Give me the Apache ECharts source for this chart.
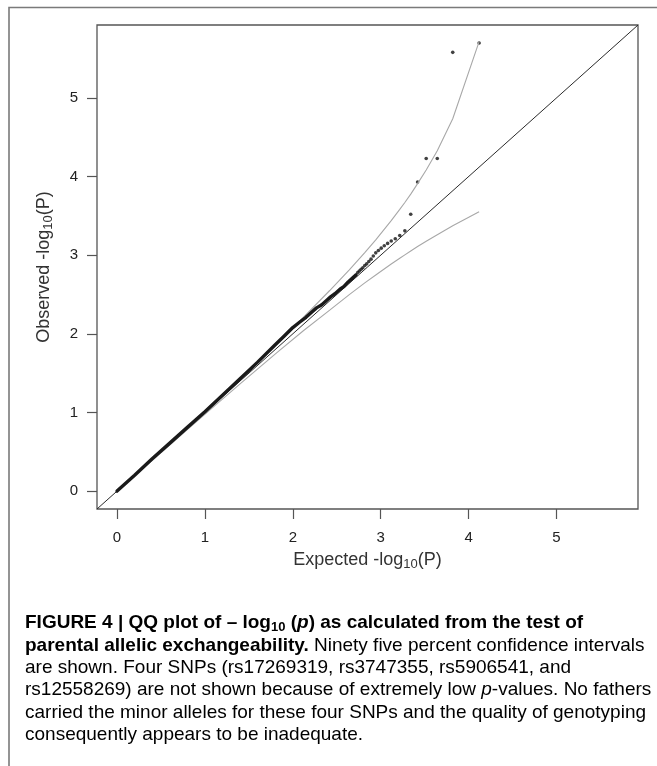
<!DOCTYPE html>
<html><head><meta charset="utf-8">
<script src="https://cdn.jsdelivr.net/npm/echarts@6/dist/echarts.min.js"></script>
<style>html,body{margin:0;padding:0;background:#fff}#c{width:657px;height:766px}</style>
</head><body><div id="c"></div>
<script>
// ---- data ----
const tickValues = [0, 1, 2, 3, 4, 5];
const axisMin = -0.228, axisMax = 5.928;
// dense part of the QQ points (many overlapping dots)
const denseExpected = [0.00, 0.20, 0.40, 0.60, 0.80, 1.00, 1.20, 1.40, 1.60, 1.80, 1.90, 2.00, 2.08, 2.15, 2.22, 2.27, 2.33, 2.39, 2.43, 2.48, 2.54, 2.58, 2.63, 2.67, 2.72];
const denseObserved = [0.00, 0.20, 0.41, 0.61, 0.81, 1.01, 1.22, 1.43, 1.64, 1.86, 1.97, 2.08, 2.15, 2.21, 2.28, 2.33, 2.37, 2.43, 2.47, 2.51, 2.57, 2.60, 2.66, 2.70, 2.75];
// upper tail, individual dots
const tailExpected = [4.12, 3.82, 3.644, 3.518, 3.42, 3.342, 3.275, 3.217, 3.166, 3.12, 3.079, 3.041, 3.006, 2.974, 2.944, 2.916, 2.89, 2.865, 2.841, 2.819, 2.797, 2.777, 2.757, 2.739];
const tailObserved = [5.70, 5.58, 4.23, 4.23, 3.93, 3.52, 3.31, 3.25, 3.21, 3.18, 3.15, 3.12, 3.09, 3.06, 3.03, 2.99, 2.95, 2.92, 2.89, 2.87, 2.84, 2.82, 2.80, 2.78];
// 95% confidence band
const ciExpected = [4.12, 3.82, 3.644, 3.518, 3.42, 3.342, 3.275, 3.217, 3.12, 2.944, 2.819, 2.643, 2.42, 2.12, 1.819, 1.42, 1.12, 0.819, 0.421, 0];
const ciUpper    = [5.717, 4.736, 4.328, 4.083, 3.91, 3.777, 3.671, 3.582, 3.439, 3.196, 3.033, 2.814, 2.551, 2.21, 1.881, 1.46, 1.148, 0.839, 0.433, 0];
const ciLower    = [3.553, 3.374, 3.261, 3.177, 3.11, 3.053, 3.004, 2.961, 2.888, 2.749, 2.648, 2.499, 2.301, 2.039, 1.761, 1.383, 1.094, 0.800, 0.409, 0];
// caption
const captionLines = [
  [['b','FIGURE 4 | QQ plot of – log'],['bs','10'],['b',' ('],['bi','p'],['b',') as calculated from the test of']],
  [['b','parental allelic exchangeability.'],['r',' Ninety five percent confidence intervals']],
  [['r','are shown. Four SNPs (rs17269319, rs3747355, rs5906541, and']],
  [['r','rs12558269) are not shown because of extremely low '],['ri','p'],['r','-values. No fathers']],
  [['r','carried the minor alleles for these four SNPs and the quality of genotyping']],
  [['r','consequently appears to be inadequate.']]
];

const pair = (xs, ys) => xs.map((x, i) => [x, ys[i]]);
const FONT = 'Liberation Sans, Arial, sans-serif';
const capFont = 19;
const capColor = '#231f20';
const capStyles = {
  b:  {fontFamily: FONT, fontSize: capFont, fontWeight: 'bold', color: capColor, lineHeight: 22},
  bs: {fontFamily: FONT, fontSize: 13, fontWeight: 'bold', color: capColor, verticalAlign: 'bottom', lineHeight: 14, padding: [10,0,0,0]},
  bi: {fontFamily: FONT, fontSize: capFont, fontWeight: 'bold', fontStyle: 'italic', color: capColor, lineHeight: 22},
  r:  {fontFamily: FONT, fontSize: capFont, color: capColor, lineHeight: 22},
  ri: {fontFamily: FONT, fontSize: capFont, fontStyle: 'italic', color: capColor, lineHeight: 22}
};
const capFirst = 623, capStep = 22.4;
const captionGraphics = captionLines.map((line, i) => ({
  type: 'text', x: 25, y: capFirst + i * capStep,
  style: {
    text: line.map(([k, t]) => '{' + k + '|' + t + '}').join(''),
    rich: capStyles, verticalAlign: 'middle', align: 'left'
  }
}));

const nameRich = {
  a: {fontFamily: FONT, fontSize: 18, color: '#333'},
  s: {fontFamily: FONT, fontSize: 13, color: '#333', verticalAlign: 'bottom', padding: [9,0,0,0]}
};

const chart = echarts.init(document.getElementById('c'), null, {renderer: 'canvas'});
chart.setOption({
  animation: false,
  backgroundColor: '#fff',
  grid: {left: 97, top: 25, width: 541, height: 484, show: true, borderColor: '#555', borderWidth: 1.3, backgroundColor: 'transparent'},
  xAxis: {
    type: 'value', min: axisMin, max: axisMax,
    axisLine: {show: false, onZero: false}, splitLine: {show: false},
    axisTick: {show: true, inside: false, customValues: tickValues, length: 10, lineStyle: {color: '#555', width: 1.2}},
    axisLabel: {customValues: tickValues, fontSize: 15, color: '#222', margin: 21, fontFamily: FONT},
    name: '{a|Expected -log}{s|10}{a|(P)}', nameLocation: 'middle', nameGap: 40,
    nameTextStyle: {rich: nameRich}
  },
  yAxis: {
    type: 'value', min: axisMin, max: axisMax,
    axisLine: {show: false, onZero: false}, splitLine: {show: false},
    axisTick: {show: true, inside: false, customValues: tickValues, length: 10, lineStyle: {color: '#555', width: 1.2}},
    axisLabel: {customValues: tickValues, fontSize: 15, color: '#222', margin: 19, fontFamily: FONT},
    name: '{a|Observed -log}{s|10}{a|(P)}', nameLocation: 'middle', nameGap: 42, nameRotate: 90,
    nameTextStyle: {rich: nameRich}
  },
  series: [
    {type: 'line', data: pair(ciExpected, ciUpper), showSymbol: false, symbol: 'none', lineStyle: {color: '#a8a8a8', width: 1.1}, silent: true},
    {type: 'line', data: pair(ciExpected, ciLower), showSymbol: false, symbol: 'none', lineStyle: {color: '#a8a8a8', width: 1.1}, silent: true},
    {type: 'line', data: [[axisMin, axisMin], [axisMax, axisMax]], showSymbol: false, symbol: 'none', lineStyle: {color: '#2a2a2a', width: 1}, silent: true},
    {type: 'line', data: pair(denseExpected, denseObserved), showSymbol: false, symbol: 'none', lineStyle: {color: '#1a1a1a', width: 3.4, join: 'round', cap: 'round'}, silent: true},
    {type: 'scatter', data: pair(tailExpected, tailObserved), symbolSize: 3.6, itemStyle: {color: '#111'}, silent: true}
  ],
  graphic: [
    {type: 'polyline', shape: {points: [[9, 766], [9, 7.5], [657, 7.5]]}, style: {stroke: '#7a7a7a', lineWidth: 1.6, fill: null}},
    ...captionGraphics
  ]
});
</script></body></html>
